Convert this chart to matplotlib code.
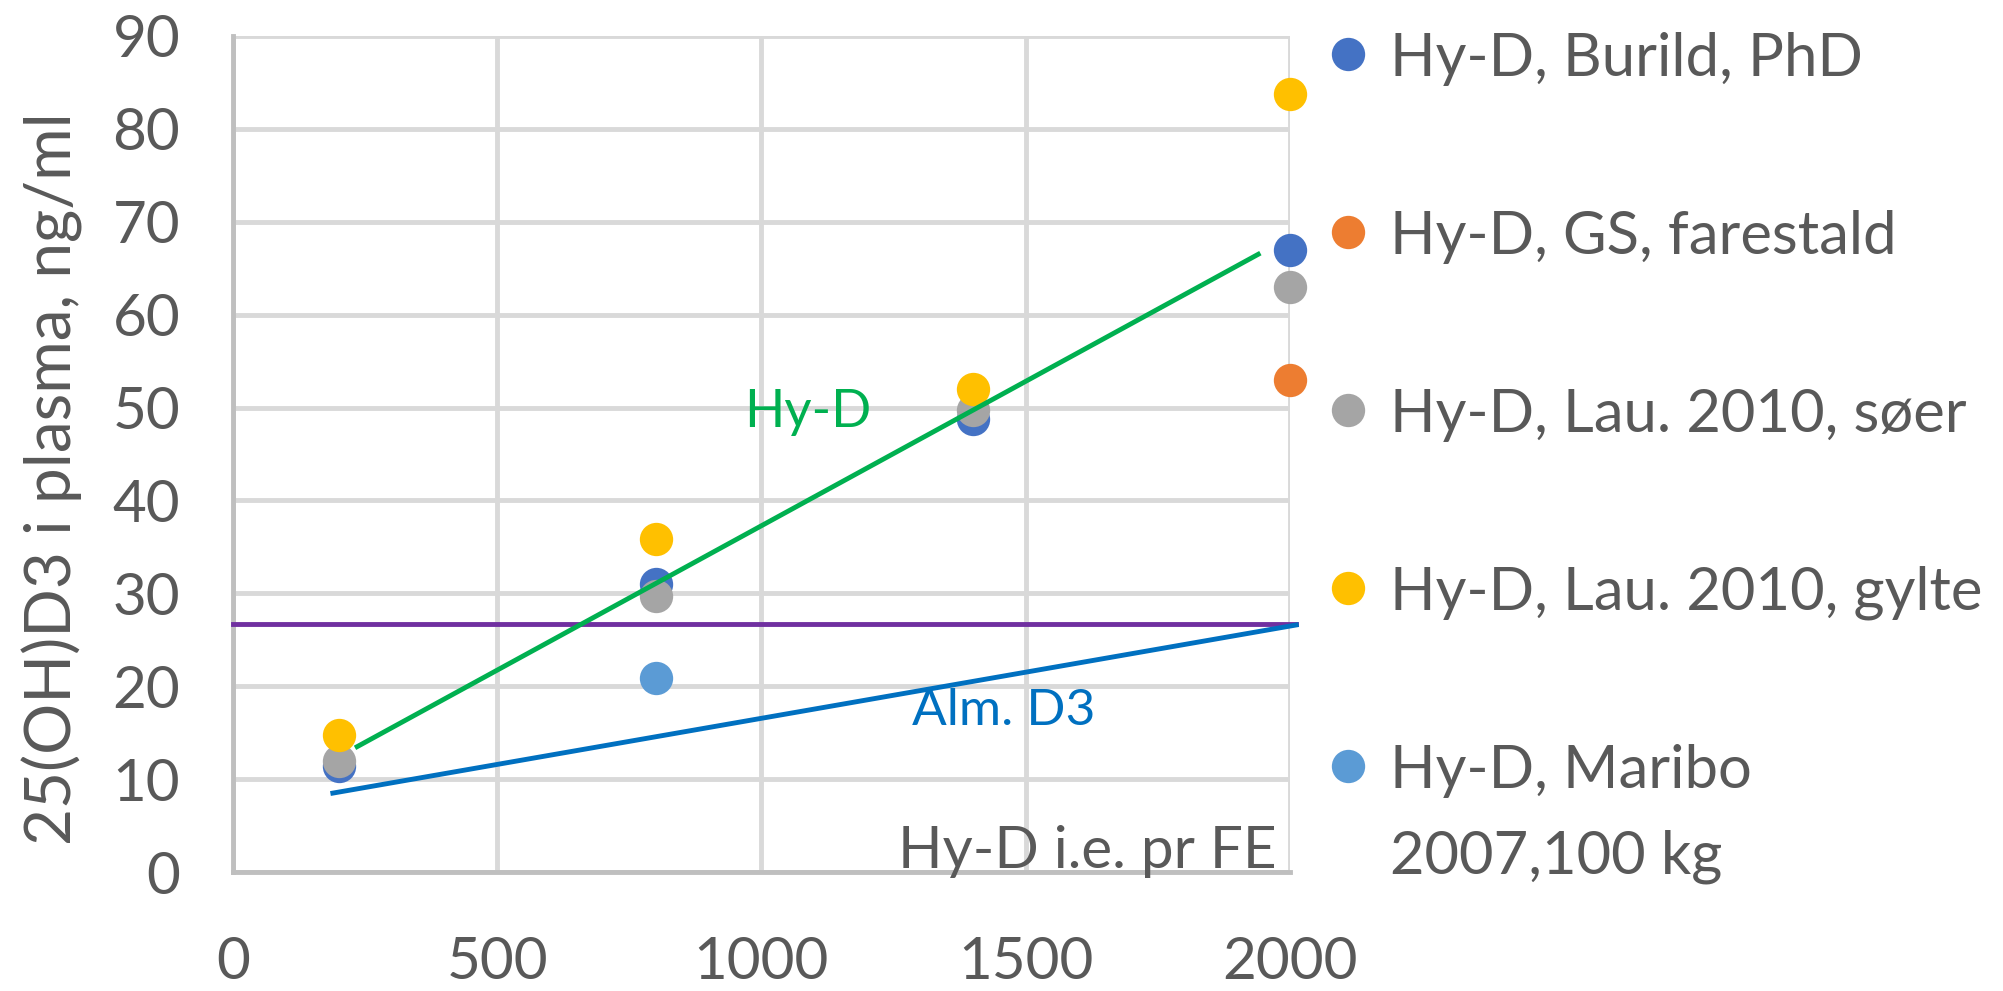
import matplotlib
matplotlib.use('Agg')
import matplotlib.pyplot as plt
from matplotlib.lines import Line2D

# punkter
serier = ['Hy-D, Burild, PhD', 'Hy-D, GS, farestald', 'Hy-D, Lau. 2010, søer',
          'Hy-D, Lau. 2010, gylte', 'Hy-D, Maribo\n2007,100 kg']
farver = ['#4472C4', '#ED7D31', '#A5A5A5', '#FFC000', '#5B9BD5']

burild_x = [200, 800, 1400, 2000]
burild_y = [11.4, 31.0, 48.8, 67.0]
gs_x = [2000]
gs_y = [53.0]
soer_x = [200, 800, 1400, 2000]
soer_y = [12.0, 29.7, 49.7, 63.0]
gylte_x = [200, 800, 1400, 2000]
gylte_y = [14.8, 35.9, 52.0, 83.8]
maribo_x = [800]
maribo_y = [20.9]

# linjer
hyd_x = [235, 1940]
hyd_y = [13.5, 66.5]
alm_x = [189, 2012]
alm_y = [8.5, 26.6]
graense_x = [0, 2012]
graense_y = [26.7, 26.7]

x_ticks = [0, 500, 1000, 1500, 2000]
y_ticks = [0, 10, 20, 30, 40, 50, 60, 70, 80, 90]

TEKST = '#595959'
plt.rcParams['font.family'] = ['Lato', 'DejaVu Sans']

fig = plt.figure(figsize=(20.03, 9.91), dpi=100)
ax = fig.add_axes([0.1163, 0.120, 0.5277, 0.8437])

ax.set_xlim(0, 2000)
ax.set_ylim(0, 90)
ax.set_xticks(x_ticks)
ax.set_yticks(y_ticks)
ax.grid(True, color='#D9D9D9', linewidth=3.5)
ax.set_axisbelow(True)
for s in ['top', 'right']:
    ax.spines[s].set_visible(False)
for s in ['left', 'bottom']:
    ax.spines[s].set_color('#BFBFBF')
    ax.spines[s].set_linewidth(3.5)
ax.tick_params(length=0, labelsize=42, labelcolor=TEKST)
ax.tick_params(axis='y', pad=38)
ax.tick_params(axis='x', pad=46)

data = [(burild_x, burild_y), (gs_x, gs_y), (soer_x, soer_y),
        (gylte_x, gylte_y), (maribo_x, maribo_y)]
for (xs, ys), c in zip(data, farver):
    ax.plot(xs, ys, 'o', color=c, markersize=24, markeredgewidth=0,
            clip_on=False, zorder=3)

ax.plot(graense_x, graense_y, color='#7030A0', linewidth=3.5, zorder=4, clip_on=False)
ax.plot(alm_x, alm_y, color='#0070C0', linewidth=3.5, zorder=4, clip_on=False)
ax.plot(hyd_x, hyd_y, color='#00B050', linewidth=3.5, zorder=4)

ax.text(1088, 49.5, 'Hy-D', color='#00B050', fontsize=38, ha='center', va='center')
ax.text(1459, 17.3, 'Alm. D3', color='#0070C0', fontsize=37, ha='center', va='center')
ax.text(1975, 0.4, 'Hy-D i.e. pr FE', color=TEKST, fontsize=42, ha='right', va='baseline')

ax.set_ylabel('25(OH)D3 i plasma, ng/ml', fontsize=46, color=TEKST)
ax.yaxis.set_label_coords(-0.142, 0.47)

# forklaring
for i, (navn, c) in enumerate(zip(serier, farver)):
    y_px = 54 + 178 * i
    fig.add_artist(Line2D([1348 / 2003], [1 - y_px / 991], transform=fig.transFigure,
                          marker='o', markersize=24, color=c, markeredgewidth=0))
    linjer = navn.split('\n')
    for j, linje in enumerate(linjer):
        fig.text(1390 / 2003, 1 - (y_px + 22 + 86 * j) / 991, linje, fontsize=43,
                 color=TEKST, va='baseline', ha='left')

plt.savefig('out.png', dpi=100)
